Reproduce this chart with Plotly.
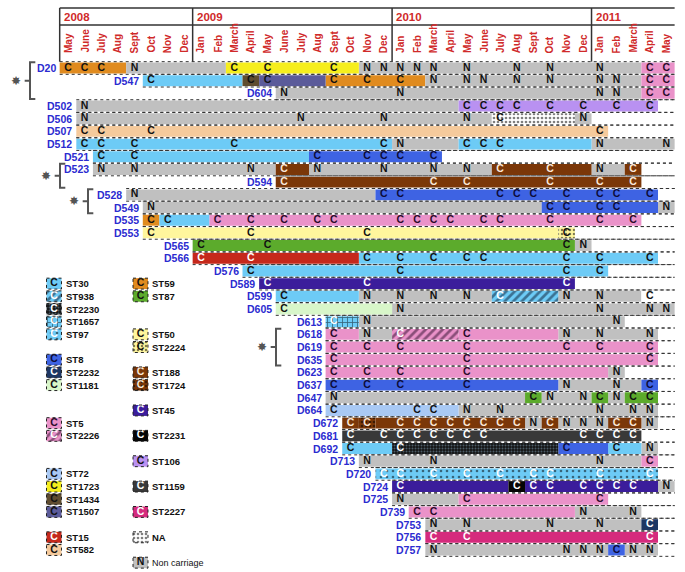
import plotly.graph_objects as go

# ---------------- data ----------------
years = ["2008", "2009", "2010", "2011"]
year_first_month = [0, 8, 20, 32]
months = ["May", "June", "July", "Aug", "Sept", "Oct", "Nov", "Dec",
          "Jan", "Feb", "March", "April", "May", "June", "July", "Aug", "Sept", "Oct", "Nov", "Dec",
          "Jan", "Feb", "March", "April", "May", "June", "July", "Aug", "Sept", "Oct", "Nov", "Dec",
          "Jan", "Feb", "March", "April", "May"]

patients = ["D20", "D547", "D604", "D502", "D506", "D507", "D512", "D521", "D523", "D594",
            "D528", "D549", "D535", "D553", "D565", "D566", "D576", "D589", "D599", "D605",
            "D613", "D618", "D619", "D635", "D623", "D637", "D647", "D664", "D672", "D681",
            "D692", "D713", "D720", "D724", "D725", "D739", "D753", "D756", "D757"]

# (first month, last month, sequence type) ; month 0 = May 2008
segments = [
    [(0, 3, "ST59"), (4, 9, "N"), (10, 17, "ST1723"), (18, 34, "N"), (35, 36, "ST5")],
    [(5, 10, "ST30"), (11, 11, "ST1434"), (12, 15, "ST1507"), (16, 21, "ST59"), (22, 34, "N"), (35, 36, "ST5")],
    [(13, 34, "N"), (35, 36, "ST5")],
    [(1, 23, "N"), (24, 35, "ST106")],
    [(1, 25, "N"), (26, 30, "NA"), (31, 31, "N")],
    [(1, 32, "ST582")],
    [(1, 19, "ST30"), (20, 23, "N"), (24, 31, "ST30"), (32, 36, "N")],
    [(2, 14, "ST30"), (15, 22, "ST8")],
    [(2, 12, "N"), (13, 14, "ST188"), (15, 25, "N"), (26, 31, "ST188"), (32, 33, "N"), (34, 34, "ST188")],
    [(13, 34, "ST188")],
    [(4, 18, "N"), (19, 35, "ST8")],
    [(5, 28, "N"), (29, 35, "ST8"), (36, 36, "N")],
    [(5, 5, "ST59"), (6, 8, "ST30"), (9, 34, "ST5")],
    [(5, 29, "ST50"), (30, 30, "ST2224")],
    [(8, 30, "ST87"), (31, 31, "N")],
    [(8, 17, "ST15"), (18, 35, "ST30")],
    [(11, 32, "ST30")],
    [(12, 30, "ST45")],
    [(13, 17, "ST30"), (18, 25, "N"), (26, 29, "ST938"), (30, 34, "N"), (35, 35, "blank")],
    [(13, 19, "ST1181"), (20, 36, "N")],
    [(16, 17, "ST1657"), (18, 33, "N")],
    [(16, 17, "ST5"), (18, 19, "N"), (20, 23, "ST2226"), (24, 29, "ST5"), (30, 35, "N")],
    [(16, 35, "ST5")],
    [(16, 35, "ST5")],
    [(16, 32, "ST5"), (33, 33, "N")],
    [(16, 29, "ST8"), (30, 34, "N"), (35, 35, "ST8")],
    [(16, 27, "N"), (28, 28, "ST87"), (29, 31, "N"), (32, 32, "ST87"), (33, 33, "N"), (34, 35, "ST87")],
    [(16, 23, "ST72"), (24, 35, "N")],
    [(17, 17, "ST188"), (18, 18, "ST1724"), (19, 27, "ST188"), (28, 28, "N"), (29, 29, "ST188"),
     (30, 32, "N"), (33, 34, "ST188"), (35, 35, "N")],
    [(17, 34, "ST1159")],
    [(17, 19, "ST30"), (20, 29, "ST2230"), (30, 32, "ST8"), (33, 34, "ST30"), (35, 35, "N")],
    [(18, 34, "N"), (35, 35, "ST5")],
    [(19, 35, "ST97")],
    [(20, 26, "ST45"), (27, 27, "ST2231"), (28, 35, "ST45"), (36, 36, "N")],
    [(20, 23, "N"), (24, 32, "ST5")],
    [(21, 30, "ST5"), (31, 34, "N")],
    [(22, 34, "N"), (35, 35, "ST2232")],
    [(22, 35, "ST2227")],
    [(22, 32, "N"), (33, 33, "ST8"), (34, 35, "N")],
]

# sampling results: letter:months
marks = [
    "C:0,1,2 N:4 C:10,12,16 N:18,19,20,21,22,24,27,29,32 C:35,36",
    "C:5,11,12,16,18,20 N:22,24,25,27,29,32,33 C:35,36",
    "N:13,20,32,33 C:35,36",
    "N:1 C:24,25,26,27,29,31,33,35",
    "N:1,14,19,24 C:26 N:31",
    "C:1,2,5,32",
    "C:1,2,4,10,19 N:20 C:24,25,26 N:32,36",
    "C:2,4,15,18,19,20,22",
    "N:2,4,11 C:13 N:15,19,22,24 C:26,29 N:32 C:34",
    "C:13,22,24,29,32,34",
    "N:4 C:19,20,26,27,28,30,32,33,35",
    "N:5 C:29,30,32,33 N:36",
    "C:5,6,9,11,13,15,16,20,21,22,23,25,26,29,32,34",
    "C:5,11,18,30",
    "C:8,12,30 N:31",
    "C:8,11,18,20,22,24,25,30,32,35",
    "C:11,20,30,32",
    "C:12,18,30",
    "C:13 N:18,20,22,24 C:26 N:30,32 C:35",
    "C:13 N:20,32,35,36",
    "C:16 N:18,33",
    "C:16 N:18 C:20,24 N:30,32,35",
    "C:16,18,20,24,30,32,35",
    "C:16,24,35",
    "C:16,18,20,24 N:33",
    "C:16,18,20,24 N:30,33 C:35",
    "N:16 C:28 N:29,31 C:32 N:33 C:34,35",
    "C:16,21,22 N:24,26,32,34,35",
    "C:17,18,20,21,22,23,24,25,26,27 N:28 C:29 N:30,31,32 C:33,34 N:35",
    "C:17,19,20,21,22,23,24,25,31,32,33,34",
    "C:17,20,30,33 N:35",
    "N:18,22,32 C:35",
    "C:19,20,22,24,26,28,29,32,35",
    "C:20,27,28,29,31,32,33,34 N:36",
    "N:20 C:24,32",
    "C:21,22 N:31,34",
    "N:22,24,29,32 C:35",
    "C:22,24,35",
    "N:22,30,31,32 C:33 N:34,35",
]

# groups of related carriers (marked with a star)
star_groups = [(0, 2), (8, 9), (10, 11), (21, 23)]

legend_left = ["ST30", "ST938", "ST2230", "ST1657", "ST97", "ST8", "ST2232", "ST1181",
               "ST5", "ST2226", "ST72", "ST1723", "ST1434", "ST1507", "ST15", "ST582"]
legend_right = ["ST59", "ST87", "ST50", "ST2224", "ST188", "ST1724", "ST45", "ST2231",
                "ST106", "ST1159", "ST2227", "NA", "N"]

# ---------------- styles ----------------
DARK, WHITE = "#111111", "#ffffff"
styles = {
    "N": dict(fill="#c0c0c0", text=DARK),
    "ST30": dict(fill="#6dcbf6", text=DARK),
    "ST938": dict(fill="#6dcbf6", pat="/", fg="#0a1a30", ps=6, so=0.45, text=WHITE),
    "ST2230": dict(fill="#141414", pat=".", fg="#7fa0b5", ps=3, so=0.35, text=WHITE),
    "ST1657": dict(fill="#6dcbf6", pat="+", fg="#000000", ps=5, so=0.3, text=WHITE),
    "ST97": dict(fill="#6dcbf6", pat=".", fg="#000000", ps=6, so=0.15, text=WHITE),
    "ST8": dict(fill="#3e63e3", text="#0c0c3a"),
    "ST2232": dict(fill="#1d3663", text=WHITE),
    "ST1181": dict(fill="#d8f6c9", text=DARK),
    "ST5": dict(fill="#ea92c9", text="#2a0a2a"),
    "ST2226": dict(fill="#ea92c9", pat="/", fg="#2a0a2a", ps=6, so=0.45, text=WHITE),
    "ST72": dict(fill="#a9c9f4", text=DARK),
    "ST1723": dict(fill="#f6ee1d", text=DARK),
    "ST1434": dict(fill="#5f4c2f", text=DARK),
    "ST1507": dict(fill="#5b5b9a", text=DARK),
    "ST15": dict(fill="#c5281b", text=WHITE),
    "ST582": dict(fill="#f5ca9c", text=DARK),
    "ST59": dict(fill="#e08b1f", text=DARK),
    "ST87": dict(fill="#5cab2c", text=DARK),
    "ST50": dict(fill="#fff69d", text=DARK),
    "ST2224": dict(fill="#fff69d", pat=".", fg="#000000", ps=4, so=0.3, text=DARK),
    "ST188": dict(fill="#7b3708", text="#fbe8d8"),
    "ST1724": dict(fill="#7b3708", pat=".", fg="#000000", ps=4, so=0.35, text="#fbe8d8"),
    "ST45": dict(fill="#3b1d9b", text=WHITE),
    "ST2231": dict(fill="#050505", text=WHITE),
    "ST106": dict(fill="#b991f1", text=DARK),
    "ST1159": dict(fill="#393939", text=WHITE),
    "ST2227": dict(fill="#d52b7d", text=WHITE),
    "NA": dict(fill="#ffffff", pat=".", fg="#000000", ps=4, so=0.35, text=DARK),
    "blank": dict(fill="#ffffff", text=DARK),
}

# ---------------- geometry of the canvas ----------------
W, H = 685, 572
PX0, PXM = 68.0, 16.62     # pixel of centre of month 0, pixels per month
PY0, PYR = 68.0, 12.684    # pixel of centre of row 0, pixels per row
def mx(px): return (px - PX0) / PXM
def ry(py): return (py - PY0) / PYR

LAST = len(months) - 1
FONT = "Liberation Sans, Arial, sans-serif"
BAR_H = 0.86

fig = go.Figure()
shapes, annots = [], []

# ---------------- bars ----------------
bars = {}
def add_bar(st, y, base, length):
    g = bars.setdefault(st, {"y": [], "base": [], "x": []})
    g["y"].append(y); g["base"].append(base); g["x"].append(length)

for r, segs in enumerate(segments):
    for a, b, st in segs:
        add_bar(st, r, a - 0.5, b - a + 1)

# legend boxes
LEG_ROW0 = 17
left_slots = [0, 1, 2, 3, 4, 6, 7, 8, 11, 12, 15, 16, 17, 18, 20, 21]
right_slots = [0, 1, 4, 5, 7, 8, 10, 12, 14, 16, 18, 20, 22]
box_w = 0.9
legend_items = []
for names, slots, cx_px, tx_px in [(legend_left, left_slots, 54, 64), (legend_right, right_slots, 140.5, 150)]:
    for nm, sl in zip(names, slots):
        legend_items.append((nm, LEG_ROW0 + sl, mx(cx_px), mx(tx_px)))
for nm, yy, cx, tx in legend_items:
    add_bar(nm, yy, cx - box_w / 2, box_w)
    shapes.append(dict(type="rect", xref="x", yref="y", x0=cx - box_w / 2, x1=cx + box_w / 2,
                       y0=yy - BAR_H / 2, y1=yy + BAR_H / 2,
                       line=dict(color="#222", width=1, dash="dot")))
    label = "Non carriage" if nm == "N" else nm
    annots.append(dict(x=tx, y=yy, text=label, showarrow=False, xanchor="left", yanchor="middle",
                       font=dict(family=FONT, size=9 if nm == "N" else 9.5, color="#111",
                                 weight="normal" if nm == "N" else "bold")))

for st, g in bars.items():
    s = styles[st]
    marker = dict(color=s["fill"], line=dict(width=0))
    if "pat" in s:
        marker["pattern"] = dict(shape=s["pat"], bgcolor=s["fill"], fgcolor=s["fg"],
                                 size=s["ps"], solidity=s["so"], fillmode="overlay")
    fig.add_trace(go.Bar(y=g["y"], x=g["x"], base=g["base"], orientation="h", width=BAR_H,
                         marker=marker, hoverinfo="skip", showlegend=False))

# ---------------- letters ----------------
letters = {}
def add_letter(x, y, t, col):
    g = letters.setdefault(col, {"x": [], "y": [], "t": []})
    g["x"].append(x); g["y"].append(y); g["t"].append(t)

for r, s in enumerate(marks):
    for tok in s.split():
        let, nums = tok.split(":")
        for n in nums.split(","):
            m = int(n)
            st = next(seg[2] for seg in segments[r] if seg[0] <= m <= seg[1])
            add_letter(m, r, let, styles[st]["text"])

for nm, yy, cx, tx in legend_items:
    if nm == "NA":
        continue
    add_letter(cx, yy, "N" if nm == "N" else "C", styles[nm]["text"])

for col, g in letters.items():
    fig.add_trace(go.Scatter(x=g["x"], y=g["y"], text=g["t"], mode="text",
                             textfont=dict(family=FONT, size=10.5, color=col, weight="bold"),
                             hoverinfo="skip", showlegend=False))

# ---------------- row lines and labels ----------------
for r, segs in enumerate(segments):
    start = segs[0][0] - 0.5
    for yy in (r - 0.5, r + 0.5):
        shapes.append(dict(type="line", xref="x", yref="y", x0=start, x1=LAST + 0.5, y0=yy, y1=yy,
                           line=dict(color="#333", width=1, dash="dot")))
    annots.append(dict(x=start, y=r, text=patients[r], showarrow=False, xanchor="right",
                       yanchor="middle", xshift=-2,
                       font=dict(family=FONT, size=10.5, color="#2b2bd0", weight="bold")))

# ---------------- header ----------------
top, mid, bot = ry(8), ry(25), -0.5
hdr = dict(color="#333", width=1.5)
shapes.append(dict(type="line", xref="x", yref="y", x0=-0.5, x1=LAST + 0.5, y0=top, y1=top, line=hdr))
shapes.append(dict(type="line", xref="x", yref="y", x0=-0.5, x1=LAST + 0.5, y0=mid, y1=mid, line=hdr))
for ys in year_first_month:
    shapes.append(dict(type="line", xref="x", yref="y", x0=ys - 0.5, x1=ys - 0.5, y0=top, y1=bot, line=hdr))
for yname, ys in zip(years, year_first_month):
    annots.append(dict(x=ys - 0.5, y=(top + mid) / 2, text=yname, showarrow=False, xanchor="left",
                       yanchor="middle", xshift=2,
                       font=dict(family=FONT, size=11.5, color="#d02a2a", weight="bold")))
for m, name in enumerate(months):
    annots.append(dict(x=m, y=ry(55), text=name, showarrow=False, textangle=-90,
                       xanchor="center", yanchor="bottom",
                       font=dict(family=FONT, size=10, color="#d02a2a", weight="bold")))

# ---------------- star brackets ----------------
bracket_x_px = [30, 60, 88, 276]
for (r0, r1), bx_px in zip(star_groups, bracket_x_px):
    bx = mx(bx_px)
    y0, y1 = r0 - 0.45, r1 + 0.45
    ym = (y0 + y1) / 2
    tick = 0.32
    path = (f"M {bx + tick},{y0} L {bx},{y0} L {bx},{y1} L {bx + tick},{y1} "
            f"M {bx},{ym} L {bx - tick},{ym}")
    shapes.append(dict(type="path", xref="x", yref="y", path=path,
                       line=dict(color="#555", width=2)))
    annots.append(dict(x=bx - 0.82, y=ym, text="✸", showarrow=False, xanchor="center",
                       yanchor="middle", font=dict(family="DejaVu Sans", size=12, color="#555")))

fig.update_layout(
    width=W, height=H, margin=dict(l=0, r=0, t=0, b=0),
    paper_bgcolor="white", plot_bgcolor="white", barmode="overlay",
    xaxis=dict(range=[mx(0), mx(W)], visible=False, fixedrange=True),
    yaxis=dict(range=[ry(H), ry(0)], visible=False, fixedrange=True),
    shapes=shapes, annotations=annots, showlegend=False,
)
fig.write_html("out.html", config={"displayModeBar": False},
               post_script="document.body.style.margin='0px';document.body.style.overflow='hidden';")
